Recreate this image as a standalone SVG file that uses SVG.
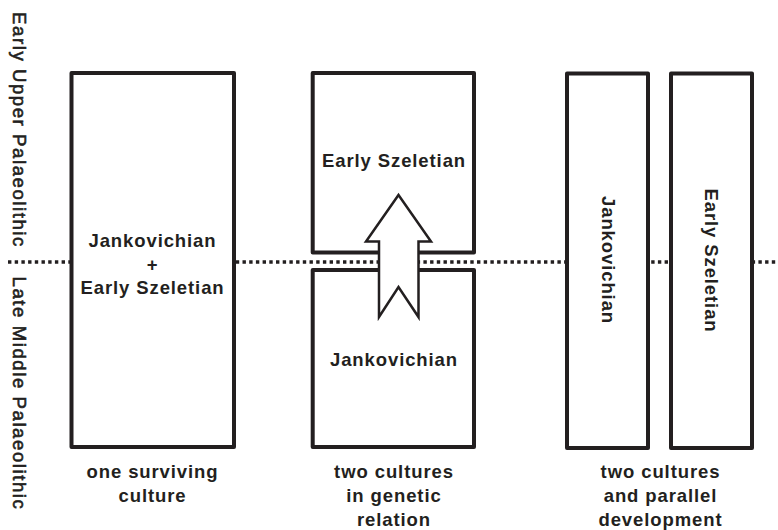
<svg xmlns="http://www.w3.org/2000/svg" width="778" height="530" viewBox="0 0 778 530">
<style>
.box{fill:#fff;stroke:#231f20;stroke-width:4;stroke-linejoin:round}
.lbl{font-family:"Liberation Sans",Arial,sans-serif;font-weight:bold;font-size:18.5px;letter-spacing:0.9px;fill:#231f20;text-anchor:middle}
.side{font-family:"Liberation Sans",Arial,sans-serif;font-size:18.5px;letter-spacing:1.6px;fill:#231f20;stroke:#231f20;stroke-width:0.6;text-anchor:middle}
.dots{fill:none;stroke:#231f20;stroke-width:3.5;stroke-dasharray:3.4 3.3}
.arrow{fill:#fff;stroke:#231f20;stroke-width:2.5;stroke-linejoin:miter}
</style>
<rect width="778" height="530" fill="#fff"/>
<g id="period-labels">
<text class="side" transform="translate(13,130) rotate(90)">Early Upper Palaeolithic</text>
<text class="side" transform="translate(13,393.5) rotate(90)">Late Middle Palaeolithic</text>
</g>
<g id="connectors">
<line class="dots" x1="8" y1="262" x2="778" y2="262"/>
</g>
<g id="box-combined">
<rect class="box" x="71.5" y="73" width="162.5" height="374"/>
<text class="lbl" x="152.5" y="247">Jankovichian</text>
<text class="lbl" x="152.5" y="270.5">+</text>
<text class="lbl" x="152.5" y="294">Early Szeletian</text>
</g>
<g id="box-genetic-upper">
<rect class="box" x="312.7" y="73" width="161.3" height="179.5"/>
<text class="lbl" x="394" y="167">Early Szeletian</text>
</g>
<g id="box-genetic-lower">
<rect class="box" x="312.7" y="270" width="161.3" height="177"/>
<text class="lbl" x="394" y="366">Jankovichian</text>
</g>
<g id="genetic-arrow">
<polygon class="arrow" points="398.5,195 431,241.5 418.5,241.5 418.5,317 398.5,287 379,317 379,241.5 366,241.5"/>
</g>
<g id="box-parallel-jankovichian">
<rect class="box" x="567" y="73.5" width="81" height="374.5"/>
<text class="lbl" transform="translate(601.5,260) rotate(90)">Jankovichian</text>
</g>
<g id="box-parallel-szeletian">
<rect class="box" x="671" y="73.5" width="81" height="374.5"/>
<text class="lbl" transform="translate(705,260.5) rotate(90)">Early Szeletian</text>
</g>
<g id="captions">
<text class="lbl" x="152.5" y="478">one surviving</text>
<text class="lbl" x="152.5" y="501.5">culture</text>
<text class="lbl" x="394" y="478">two cultures</text>
<text class="lbl" x="394" y="502">in genetic</text>
<text class="lbl" x="394" y="526">relation</text>
<text class="lbl" x="660.5" y="478">two cultures</text>
<text class="lbl" x="660.5" y="502">and parallel</text>
<text class="lbl" x="660.5" y="526">development</text>
</g>
</svg>
